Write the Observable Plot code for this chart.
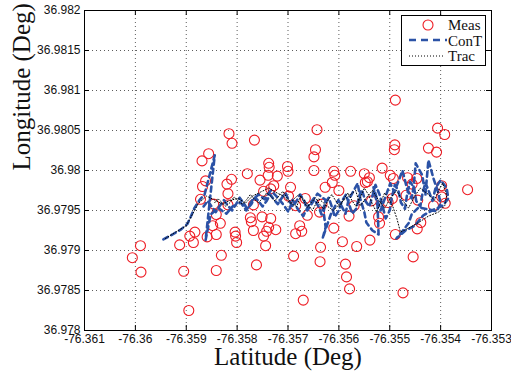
<!DOCTYPE html>
<html>
<head>
<meta charset="utf-8">
<script src="https://cdn.jsdelivr.net/npm/d3@7"></script>
<script src="https://cdn.jsdelivr.net/npm/@observablehq/plot@0.6"></script>
<style>
  html, body { margin: 0; padding: 0; background: #fff; }
</style>
</head>
<body>
<div id="chart"></div>
<script>
// ---- tick values and labels ----
const xTicks = [-76.361, -76.360, -76.359, -76.358, -76.357, -76.356, -76.355, -76.354, -76.353];
const xTickLabels = ["-76.361", "-76.36", "-76.359", "-76.358", "-76.357", "-76.356", "-76.355", "-76.354", "-76.353"];
const yTicks = [36.978, 36.9785, 36.979, 36.9795, 36.980, 36.9805, 36.981, 36.9815, 36.982];
const yTickLabels = ["36.978", "36.9785", "36.979", "36.9795", "36.98", "36.9805", "36.981", "36.9815", "36.982"];
const xLabel = "Latitude (Deg)";
const yLabel = "Longitude (Deg)";
const seriesNames = ["Meas", "ConT", "Trac"];

// ---- Meas (circles) ----
const measLon = [
  -76.36006, -76.35990, -76.35989, -76.35913, -76.35905, -76.35895, -76.35893, -76.35886, -76.35883, -76.35868,
  -76.35872, -76.35859, -76.35848, -76.35846, -76.35841, -76.35841, -76.35841, -76.35833, -76.35831, -76.35818,
  -76.35818, -76.35820, -76.35804, -76.35801, -76.35803, -76.35774, -76.35768, -76.35762, -76.35768, -76.35751,
  -76.35734, -76.35738, -76.35724, -76.35748, -76.35744, -76.35728, -76.35695, -76.35699, -76.35666, -76.35662,
  -76.35677, -76.35673, -76.35685, -76.35689, -76.35670, -76.35636, -76.35637, -76.35638, -76.35633, -76.35627,
  -76.35610, -76.35600, -76.35593, -76.35587, -76.35585, -76.35579, -76.35580, -76.35570, -76.35565, -76.35548,
  -76.35539, -76.35522, -76.35520, -76.35503, -76.35495, -76.35489, -76.35474, -76.35468, -76.35454, -76.35446,
  -76.35439, -76.35414, -76.35398, -76.35391, -76.35398, -76.35347, -76.35489, -76.35643, -76.35646, -76.35649,
  -76.35649, -76.35766, -76.35738, -76.35737, -76.35701, -76.35721, -76.35739, -76.35610, -76.35577, -76.35550,
  -76.35515, -76.35499, -76.35490, -76.35491, -76.35424, -76.35408, -76.35406, -76.35392, -76.35816, -76.35810,
  -76.35869, -76.35856, -76.35780, -76.35755, -76.35862, -76.35811, -76.35734, -76.35748, -76.35700, -76.35608,
  -76.35613, -76.35540, -76.35544, -76.35493, -76.35447, -76.35456, -76.35465, -76.35445, -76.35536, -76.35772,
  -76.35742, -76.35685
];
const measLat = [
  36.97891, 36.97906, 36.97873, 36.97907, 36.97874, 36.97825, 36.97918, 36.97910, 36.97923, 36.97980,
  36.97964, 36.97917, 36.97931, 36.97958, 36.97945, 36.97920, 36.97875, 36.97934, 36.97894, 36.97971,
  36.97957, 36.97983, 36.97923, 36.97910, 36.97918, 36.97941, 36.97925, 36.97882, 36.97957, 36.97942,
  36.97940, 36.97929, 36.97926, 36.97918, 36.97906, 36.97981, 36.97979, 36.97968, 36.97965, 36.97944,
  36.97931, 36.97924, 36.97921, 36.97893, 36.97838, 36.97904, 36.97886, 36.97948, 36.97958, 36.97979,
  36.97928, 36.97975, 36.97911, 36.97883, 36.97867, 36.97852, 36.97943, 36.97956, 36.97905, 36.97985,
  36.97913, 36.97942, 36.97934, 36.97960, 36.97965, 36.97920, 36.97847, 36.97969, 36.97892, 36.97927,
  36.97935, 36.97956, 36.97967, 36.97959, 36.97981, 36.97976, 36.98088, 36.98051, 36.98026, 36.98017,
  36.98000, 36.98038, 36.98009, 36.98004, 36.98005, 36.97993, 36.97994, 36.97999, 36.97999, 36.97996,
  36.98003, 36.97994, 36.98032, 36.98026, 36.98028, 36.98023, 36.98053, 36.98045, 36.98046, 36.98034,
  36.98012, 36.98021, 36.97996, 36.97988, 36.97987, 36.97989, 36.97977, 36.97974, 36.97999, 36.97994,
  36.97985, 36.97991, 36.97986, 36.97990, 36.97990, 36.97983, 36.97991, 36.97963, 36.97962, 36.97936,
  36.97924, 36.97956
];

// ---- ConT (dashed blue track) ----
const conTLon = [
  -76.35945, -76.35927, -76.35911, -76.35898, -76.35892, -76.35884, -76.35874, -76.35864, -76.35844, -76.35862,
  -76.35852, -76.35837, -76.35821, -76.35809, -76.35793, -76.35782, -76.35770, -76.35758, -76.35746, -76.35734,
  -76.35723, -76.35711, -76.35699, -76.35691, -76.35679, -76.35670, -76.35660, -76.35642, -76.35626, -76.35630,
  -76.35626, -76.35632, -76.35616, -76.35601, -76.35587, -76.35581, -76.35563, -76.35558, -76.35550, -76.35546,
  -76.35534, -76.35522, -76.35524, -76.35532, -76.35518, -76.35499, -76.35491, -76.35475, -76.35465, -76.35457,
  -76.35453, -76.35449, -76.35436, -76.35430, -76.35424, -76.35414, -76.35404, -76.35400, -76.35408, -76.35443,
  -76.35457, -76.35463, -76.35479, -76.35487, -76.35469, -76.35451, -76.35434, -76.35414, -76.35396, -76.35385,
  -76.35388, -76.35400,
  -76.35410, -76.35416, -76.35422, -76.35430, -76.35436, -76.35440, -76.35448, -76.35452, -76.35460, -76.35466,
  -76.35470, -76.35478, -76.35483, -76.35490, -76.35496, -76.35500, -76.35508, -76.35514, -76.35520, -76.35528,
  -76.35534, -76.35540, -76.35548, -76.35555, -76.35560, -76.35566, -76.35574, -76.35580, -76.35586, -76.35594,
  -76.35600, -76.35608, -76.35614, -76.35620, -76.35628, -76.35634, -76.35640, -76.35648, -76.35655, -76.35662,
  -76.35668, -76.35676, -76.35683, -76.35690, -76.35698, -76.35705, -76.35712, -76.35720, -76.35728, -76.35735,
  -76.35742, -76.35750, -76.35758, -76.35765, -76.35772, -76.35780, -76.35788, -76.35795, -76.35802, -76.35810,
  -76.35818, -76.35826, -76.35834, -76.35842, -76.35850, -76.35858, -76.35866
];
const conTLat = [
  36.97914, 36.97920, 36.97926, 36.97933, 36.97941, 36.97953, 36.97963, 36.97970, 36.98019, 36.97913,
  36.97945, 36.97953, 36.97946, 36.97955, 36.97960, 36.97950, 36.97963, 36.97970, 36.97964, 36.97975,
  36.97968, 36.97959, 36.97948, 36.97963, 36.97950, 36.97943, 36.97956, 36.97971, 36.97963, 36.97948,
  36.97929, 36.97915, 36.97945, 36.97963, 36.97946, 36.97963, 36.97984, 36.97965, 36.97948, 36.97935,
  36.97925, 36.97920, 36.97956, 36.97979, 36.97950, 36.97984, 36.97973, 36.98000, 36.97975, 36.97965,
  36.97980, 36.98009, 36.97994, 36.97969, 36.98013, 36.97990, 36.97971, 36.97958, 36.97949, 36.97954,
  36.97945, 36.97934, 36.97921, 36.97915, 36.97925, 36.97931, 36.97944, 36.97951, 36.97956, 36.97965,
  36.97978, 36.97988,
  36.97978, 36.97962, 36.97972, 36.97985, 36.97970, 36.97955, 36.97962, 36.97978, 36.97986, 36.97970,
  36.97952, 36.97960, 36.97975, 36.97982, 36.97966, 36.97950, 36.97940, 36.97955, 36.97970, 36.97982,
  36.97968, 36.97955, 36.97962, 36.97976, 36.97968, 36.97952, 36.97946, 36.97958, 36.97970, 36.97962,
  36.97950, 36.97942, 36.97955, 36.97966, 36.97958, 36.97945, 36.97955, 36.97964, 36.97957, 36.97950,
  36.97962, 36.97970, 36.97962, 36.97955, 36.97962, 36.97972, 36.97966, 36.97958, 36.97964, 36.97970,
  36.97962, 36.97955, 36.97962, 36.97966, 36.97958, 36.97952, 36.97960, 36.97966, 36.97958, 36.97950,
  36.97956, 36.97963, 36.97956, 36.97948, 36.97955, 36.97962, 36.97955
];

// ---- Trac (dotted black track) ----
const tracLon = [
  -76.35941, -76.35921, -76.35900, -76.35888, -76.35876, -76.35860, -76.35844, -76.35829, -76.35813, -76.35797,
  -76.35784, -76.35770, -76.35754, -76.35738, -76.35725, -76.35709, -76.35695, -76.35683, -76.35675, -76.35664,
  -76.35652, -76.35640, -76.35624, -76.35611, -76.35597, -76.35581, -76.35567, -76.35558, -76.35546, -76.35534,
  -76.35522, -76.35510, -76.35499, -76.35487, -76.35475, -76.35463, -76.35451, -76.35440, -76.35424, -76.35412,
  -76.35404, -76.35396, -76.35388, -76.35392, -76.35404, -76.35424, -76.35443, -76.35463, -76.35479,
  -76.35486, -76.35494, -76.35502, -76.35510, -76.35518, -76.35526, -76.35534, -76.35542, -76.35550, -76.35558,
  -76.35566, -76.35574, -76.35582, -76.35590, -76.35598, -76.35606, -76.35614, -76.35622, -76.35630, -76.35638,
  -76.35646, -76.35654, -76.35662, -76.35670, -76.35678, -76.35686, -76.35694, -76.35702, -76.35710, -76.35718,
  -76.35726, -76.35734, -76.35742, -76.35750, -76.35758, -76.35766, -76.35774, -76.35782, -76.35790, -76.35798,
  -76.35806, -76.35814, -76.35822, -76.35830, -76.35838, -76.35846
];
const tracLat = [
  36.97915, 36.97923, 36.97931, 36.97945, 36.97959, 36.97968, 36.97963, 36.97958, 36.97963, 36.97965,
  36.97959, 36.97968, 36.97973, 36.97978, 36.97973, 36.97968, 36.97959, 36.97955, 36.97968, 36.97960,
  36.97950, 36.97965, 36.97956, 36.97950, 36.97959, 36.97968, 36.97975, 36.97956, 36.97966, 36.97975,
  36.97963, 36.97953, 36.97965, 36.97975, 36.97963, 36.97953, 36.97968, 36.97978, 36.97970, 36.97963,
  36.97975, 36.97984, 36.97969, 36.97956, 36.97948, 36.97943, 36.97935, 36.97928, 36.97923,
  36.97940, 36.97955, 36.97965, 36.97972, 36.97960, 36.97948, 36.97958, 36.97970, 36.97978, 36.97966,
  36.97955, 36.97962, 36.97972, 36.97965, 36.97955, 36.97962, 36.97970, 36.97962, 36.97952, 36.97958,
  36.97966, 36.97960, 36.97954, 36.97962, 36.97970, 36.97966, 36.97960, 36.97966, 36.97974, 36.97968,
  36.97962, 36.97968, 36.97972, 36.97965, 36.97960, 36.97964, 36.97970, 36.97963, 36.97958, 36.97962,
  36.97967, 36.97960, 36.97955, 36.97960, 36.97965, 36.97958
];

const meas = measLon.map((x, i) => ({x, y: measLat[i]}));
const conT = conTLon.map((x, i) => ({x, y: conTLat[i]}));
const trac = tracLon.map((x, i) => ({x, y: tracLat[i]}));

const W = 511, H = 373;
const mL = 84, mR = 20, mT = 10, mB = 43;
const innerW = W - mL - mR, innerH = H - mT - mB;
const TICK = 5;
const BLUE = "#2b52a6";
const serif = "'Liberation Serif', 'Times New Roman', serif";

const svg = Plot.plot({
  width: W, height: H,
  marginLeft: mL, marginRight: mR, marginTop: mT, marginBottom: mB,
  style: {background: "#fff", fontFamily: "'Liberation Sans', Arial, sans-serif", fontSize: "12px", color: "#000", overflow: "visible"},
  x: {domain: [-76.361, -76.353], label: null},
  y: {domain: [36.978, 36.982], label: null},
  marks: [
    // dotted grid
    Plot.ruleX(xTicks.slice(1, -1), {stroke: "#333", strokeWidth: 0.8, strokeDasharray: "1,3"}),
    Plot.ruleY(yTicks.slice(1, -1), {stroke: "#333", strokeWidth: 0.8, strokeDasharray: "1,3"}),
    // data
    Plot.dot(meas, {x: "x", y: "y", r: 5, stroke: "#ee1c24", strokeWidth: 1.1, fill: "none"}),
    Plot.line(conT, {x: "x", y: "y", stroke: BLUE, strokeWidth: 2.6, strokeDasharray: "5,4", curve: "linear"}),
    Plot.line(trac, {x: "x", y: "y", stroke: "#000", strokeWidth: 1, strokeDasharray: "1,2", curve: "linear"}),
    // inward ticks on all four sides
    Plot.ruleX(xTicks, {stroke: "#000", insetTop: innerH - TICK}),
    Plot.ruleX(xTicks, {stroke: "#000", insetBottom: innerH - TICK}),
    Plot.ruleY(yTicks, {stroke: "#000", insetRight: innerW - TICK}),
    Plot.ruleY(yTicks, {stroke: "#000", insetLeft: innerW - TICK}),
    Plot.frame({stroke: "#000", strokeWidth: 1}),
    // tick labels
    Plot.axisX(xTicks, {anchor: "bottom", tickSize: 0, tickPadding: 4, tickFormat: (d, i) => xTickLabels[i], fill: "#111", label: null}),
    Plot.axisY(yTicks, {anchor: "left", tickSize: 0, tickPadding: 4, tickFormat: (d, i) => yTickLabels[i], fill: "#111", label: null}),
    // axis titles
    Plot.text([xLabel], {frameAnchor: "bottom", dy: 34, fontSize: 25, fontFamily: serif, fill: "#111"}),
    Plot.text([yLabel], {frameAnchor: "left", dx: -63, rotate: -90, fontSize: 25, fontFamily: serif, fill: "#111"})
  ]
});

// legend box (upper right)
const g = d3.select(svg).append("g").attr("font-family", serif).attr("font-size", 15).attr("fill", "#111");
g.append("rect").attr("x", 401.5).attr("y", 15.5).attr("width", 84).attr("height", 50)
  .attr("fill", "#fff").attr("stroke", "#000").attr("stroke-width", 1);
g.append("circle").attr("cx", 428).attr("cy", 25).attr("r", 5)
  .attr("fill", "none").attr("stroke", "#ee1c24").attr("stroke-width", 1.1);
g.append("line").attr("x1", 409).attr("x2", 447).attr("y1", 40).attr("y2", 40)
  .attr("stroke", BLUE).attr("stroke-width", 2.6).attr("stroke-dasharray", "7,5");
g.append("line").attr("x1", 409).attr("x2", 445).attr("y1", 56).attr("y2", 56)
  .attr("stroke", "#000").attr("stroke-width", 1).attr("stroke-dasharray", "1,2");
[30, 45.5, 61].forEach((yy, i) => {
  g.append("text").attr("x", 448).attr("y", yy).attr("text-anchor", "start").text(seriesNames[i]);
});

document.getElementById("chart").appendChild(svg);
</script>
</body>
</html>
